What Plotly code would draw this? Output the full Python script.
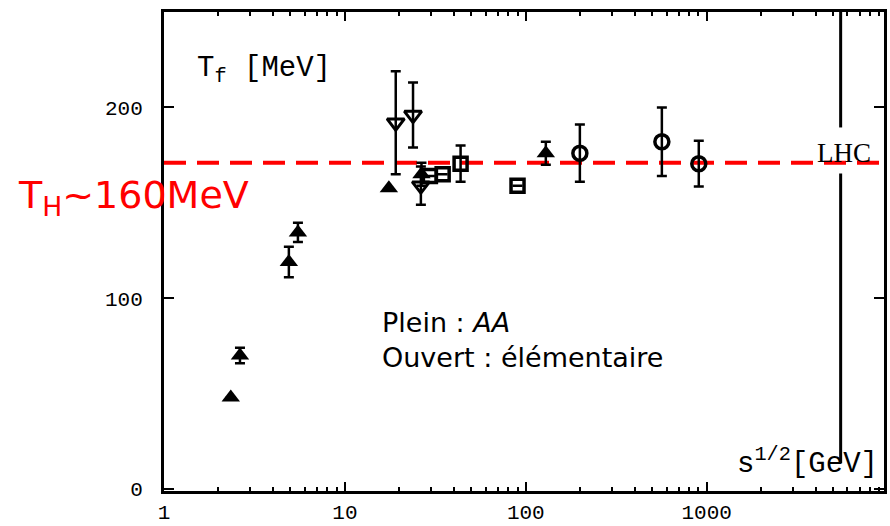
import math
import plotly.graph_objects as go

# ---- data ----
aa_x = [2.34, 2.63, 4.9, 5.5, 17.5, 26.5, 129]
aa_y = [48, 70, 119, 134.5, 157.6, 165, 176]
aa_err = [0, 4, 8, 5, 0, 6, 6]

dn_x = [19.1, 23.8, 26.3]
dn_y = [192, 196, 159]
dn_err = [27, 17, 10]

sq_x = [29.5, 34.7, 43.6, 90]
sq_y = [164, 165, 170.5, 159]
sq_err = [0, 0, 9.5, 0]

ci_x = [199, 565, 904]
ci_y = [176, 182, 170.5]
ci_err = [15, 18, 12]

t_hagedorn = 171
lhc_x = 5500
lhc_y_upper = [189.5, 250]
lhc_y_lower = [13.6, 165.4]

x_tickvals = [1, 10, 100, 1000]
x_ticktext = ["1", "10", "100", "1000"]
y_tickvals = [0, 100, 200]
y_ticktext = ["0", "100", "200"]

x_range_log = [0, 3.98]
y_range = [-1, 250]

tick_font = dict(family="Liberation Mono", size=21, color="black")

fig = go.Figure()

# red dashed Hagedorn line
fig.add_trace(go.Scatter(
    x=[10 ** x_range_log[0], 10 ** 3.975], y=[t_hagedorn, t_hagedorn],
    mode="lines", line=dict(color="#ff0000", width=4, dash="22px,11px"),
    hoverinfo="skip", showlegend=False))

# LHC vertical line (two pieces)
fig.add_trace(go.Scatter(
    x=[lhc_x, lhc_x], y=lhc_y_upper,
    mode="lines", line=dict(color="black", width=3),
    hoverinfo="skip", showlegend=False))
fig.add_trace(go.Scatter(
    x=[lhc_x, lhc_x], y=lhc_y_lower,
    mode="lines", line=dict(color="black", width=3),
    hoverinfo="skip", showlegend=False))

err_style = dict(type="data", visible=True, color="black", thickness=2.5, width=5)

fig.add_trace(go.Scatter(
    x=dn_x, y=dn_y, mode="markers",
    error_y=dict(array=dn_err, **err_style),
    marker=dict(symbol="triangle-down-open", size=15, color="black", line=dict(width=3, color="black")),
    showlegend=False))

fig.add_trace(go.Scatter(
    x=sq_x, y=sq_y, mode="markers",
    error_y=dict(array=sq_err, **err_style),
    marker=dict(symbol="square-open", size=13, color="black", line=dict(width=3.5, color="black")),
    showlegend=False))

fig.add_trace(go.Scatter(
    x=ci_x, y=ci_y, mode="markers",
    error_y=dict(array=ci_err, **err_style),
    marker=dict(symbol="circle-open", size=14, color="black", line=dict(width=3.5, color="black")),
    showlegend=False))

fig.add_trace(go.Scatter(
    x=aa_x, y=aa_y, mode="markers",
    error_y=dict(array=aa_err, **err_style),
    marker=dict(symbol="triangle-up", size=16, color="black", line=dict(width=0)),
    showlegend=False))

pl, pr, pt, pb = 164, 6, 12, 35
pw, ph = 890 - pl - pr, 526 - pt - pb

fig.update_layout(
    width=890, height=526,
    margin=dict(l=pl, r=pr, t=pt, b=pb, autoexpand=False),
    paper_bgcolor="white", plot_bgcolor="white",
    xaxis=dict(
        type="log", range=x_range_log, automargin=False,
        tickvals=x_tickvals, ticktext=x_ticktext,
        showgrid=False, zeroline=False,
        showline=True, linecolor="black", linewidth=3, mirror="ticks",
        ticks="inside", ticklen=9, tickwidth=2, tickcolor="black",
        minor=dict(dtick="D1", ticks="inside", ticklen=4, tickwidth=1.5, tickcolor="black", showgrid=False),
        tickfont=tick_font, ticklabelstandoff=0,
    ),
    yaxis=dict(
        range=y_range, automargin=False,
        tickvals=y_tickvals, ticktext=y_ticktext,
        showgrid=False, zeroline=False,
        showline=True, linecolor="black", linewidth=3, mirror="ticks",
        ticks="inside", ticklen=10, tickwidth=2, tickcolor="black",
        tickfont=tick_font, ticklabelstandoff=14,
    ),
)


def px_to_paper(xp, yp):
    return (xp - pl) / pw, 1 - (yp - pt) / ph


tx, ty = px_to_paper(195, 70)
sx, sy = px_to_paper(880, 462)
lx, ly = px_to_paper(380, 340)
rx, ry = px_to_paper(16, 197)

annotations = [
    dict(text="T<sub>f</sub> [MeV]", x=tx, y=ty, xref="paper", yref="paper",
         xanchor="left", yanchor="middle", showarrow=False,
         font=dict(family="Liberation Mono", size=29, color="black")),
    dict(text="LHC", x=math.log10(lhc_x) + 0.02, y=t_hagedorn + 5, xref="x", yref="y",
         xanchor="center", yanchor="middle", showarrow=False,
         font=dict(family="Liberation Serif", size=27, color="black")),
    dict(text="s<sup>1/2</sup>[GeV]", x=sx, y=sy, xref="paper", yref="paper",
         xanchor="right", yanchor="middle", showarrow=False,
         font=dict(family="Liberation Mono", size=29, color="black")),
    dict(text="Plein : <i>AA</i><br>Ouvert : élémentaire", x=lx, y=ly, xref="paper", yref="paper",
         xanchor="left", yanchor="middle", align="left", showarrow=False,
         font=dict(family="DejaVu Sans", size=27, color="black")),
    dict(text="T<sub>H</sub>~160MeV", x=rx, y=ry, xref="paper", yref="paper",
         xanchor="left", yanchor="middle", showarrow=False,
         font=dict(family="DejaVu Sans", size=38, color="#ff0000")),
]
fig.update_layout(annotations=annotations)

fig.write_html("out.html")
